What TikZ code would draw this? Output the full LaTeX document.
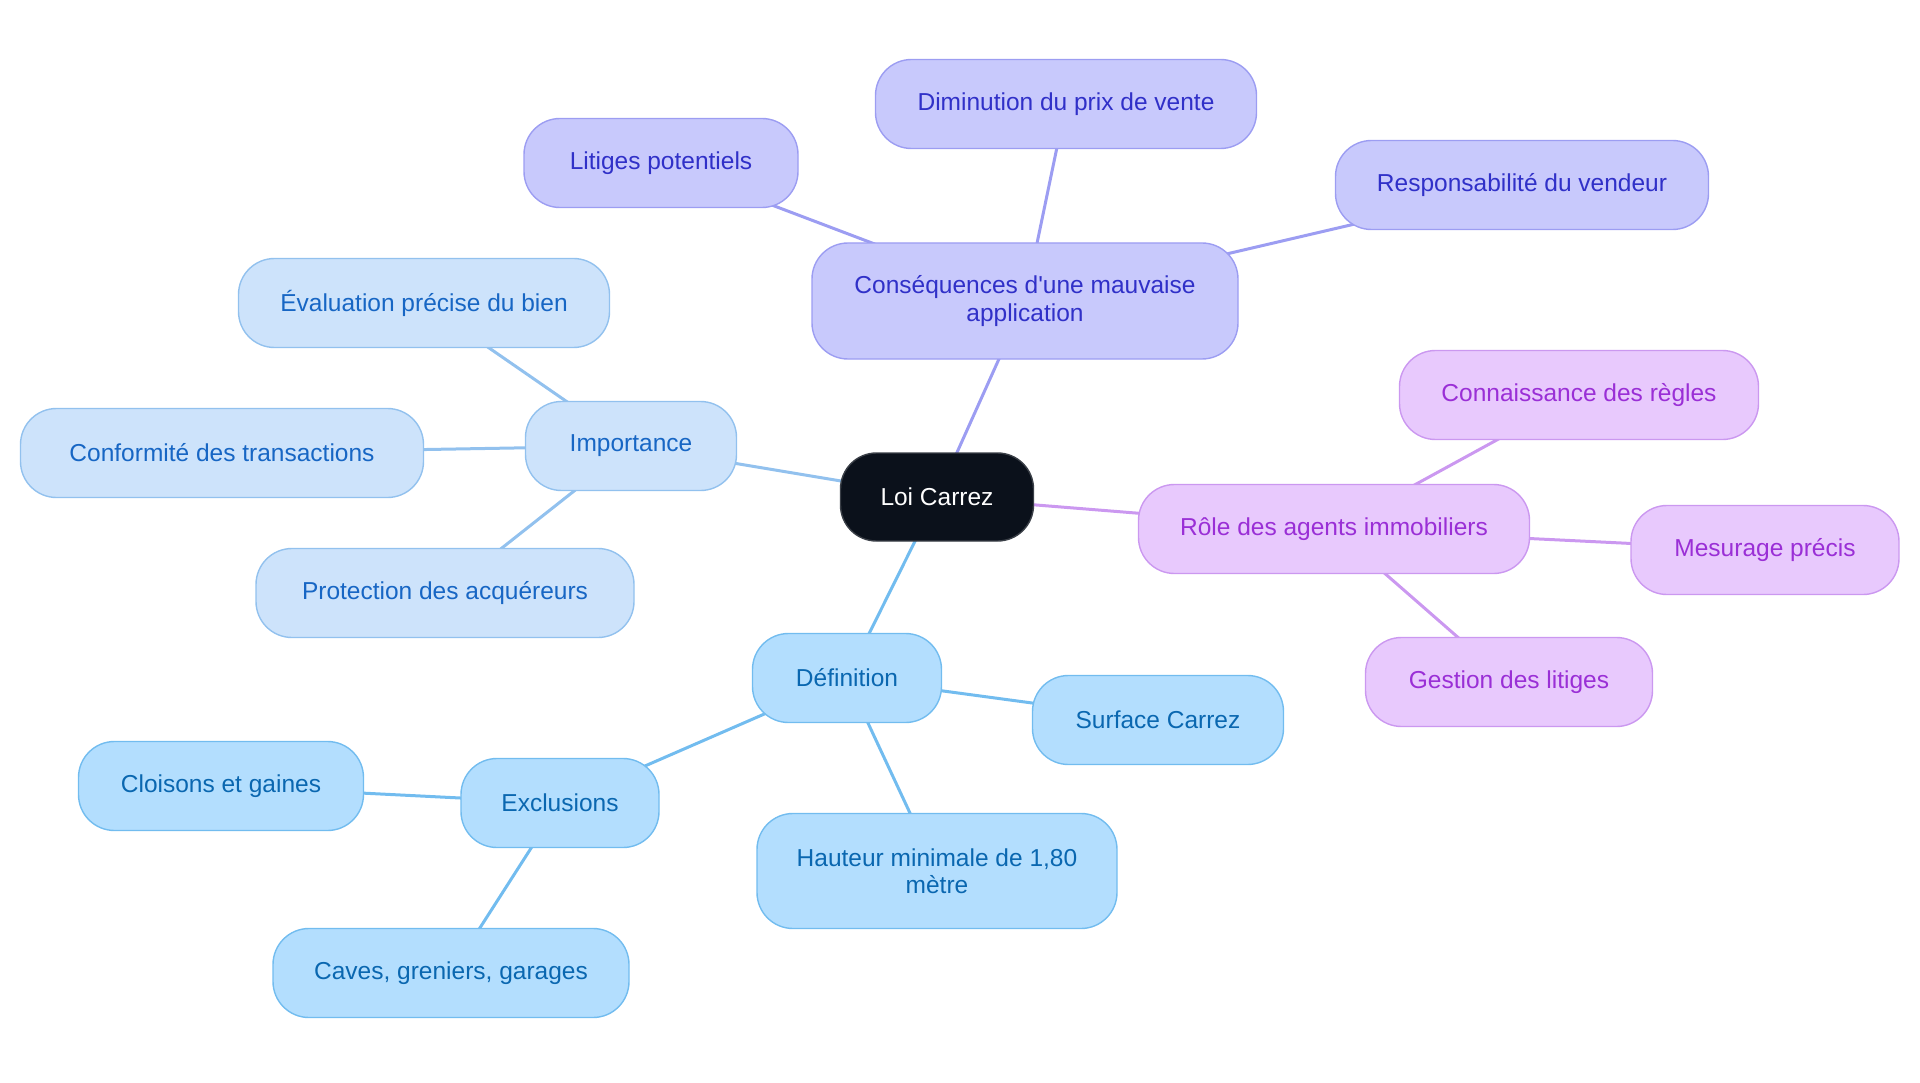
\documentclass[tikz,border=0pt]{standalone}
\usepackage{fontspec}
\setmainfont{Liberation Sans}[Ligatures=TeXOff]
\usetikzlibrary{backgrounds}
\definecolor{rootfill}{HTML}{0B111B}
\definecolor{rootdraw}{HTML}{3A3F47}
\definecolor{cfill}{HTML}{C8C9FC}
\definecolor{cdraw}{HTML}{9C9DF2}
\definecolor{ctext}{HTML}{3030C8}
\definecolor{ifill}{HTML}{CDE3FB}
\definecolor{idraw}{HTML}{92C1EE}
\definecolor{itext}{HTML}{1766C4}
\definecolor{dfill}{HTML}{B3DEFE}
\definecolor{ddraw}{HTML}{72BCEF}
\definecolor{dtext}{HTML}{0A67B0}
\definecolor{rfill}{HTML}{E8C9FD}
\definecolor{rdraw}{HTML}{CB98F0}
\definecolor{rtext}{HTML}{9A2FD6}
\tikzset{
  x=1pt, y=-1pt,
  box/.style={rectangle, rounded corners=36pt, line width=1.4pt, align=center,
    minimum height=89pt, inner sep=0pt,
    font=\fontsize{24.5}{27.5}\selectfont},
  rootbox/.style={box, fill=rootfill, draw=rootdraw, text=white},
  cbox/.style={box, fill=cfill, draw=cdraw, text=ctext},
  ibox/.style={box, fill=ifill, draw=idraw, text=itext},
  dbox/.style={box, fill=dfill, draw=ddraw, text=dtext},
  rbox/.style={box, fill=rfill, draw=rdraw, text=rtext},
  cline/.style={draw=cdraw, line width=3pt},
  iline/.style={draw=idraw, line width=3pt},
  dline/.style={draw=ddraw, line width=3pt},
  rline/.style={draw=rdraw, line width=3pt},
}
\begin{document}
\begin{tikzpicture}
\useasboundingbox (0,0) rectangle (1920,1083);
% root
\node[rootbox, minimum width=193pt, minimum height=88pt] (root) at (937,497) {Loi Carrez};
% consequences
\node[cbox, minimum width=426pt, minimum height=116pt] (cons) at (1025,301) {Conséquences d'une mauvaise\\application};
\node[cbox, minimum width=274pt] (lit) at (661,163) {Litiges potentiels};
\node[cbox, minimum width=381pt] (dim) at (1066,104) {Diminution du prix de vente};
\node[cbox, minimum width=373pt] (resp) at (1522,185) {Responsabilité du vendeur};
% importance
\node[ibox, minimum width=211pt] (imp) at (631,446) {Importance};
\node[ibox, minimum width=371pt] (eval) at (424,303) {Évaluation précise du bien};
\node[ibox, minimum width=403pt] (conf) at (222,453) {Conformité des transactions};
\node[ibox, minimum width=378pt] (prot) at (445,593) {Protection des acquéreurs};
% role
\node[rbox, minimum width=391pt] (role) at (1334,529) {Rôle des agents immobiliers};
\node[rbox, minimum width=359pt] (conn) at (1579,395) {Connaissance des règles};
\node[rbox, minimum width=268pt] (mes) at (1765,550) {Mesurage précis};
\node[rbox, minimum width=287pt] (gest) at (1509,682) {Gestion des litiges};
% definition
\node[dbox, minimum width=189pt] (def) at (847,678) {Définition};
\node[dbox, minimum width=251pt] (surf) at (1158,720) {Surface Carrez};
\node[dbox, minimum width=360pt, minimum height=115pt] (haut) at (937,871) {Hauteur minimale de 1,80\\mètre};
\node[dbox, minimum width=198pt] (excl) at (560,803) {Exclusions};
\node[dbox, minimum width=285pt] (cloi) at (221,786) {Cloisons et gaines};
\node[dbox, minimum width=356pt] (cave) at (451,973) {Caves, greniers, garages};
\begin{pgfonlayer}{background}
\draw[cline] (root.center) -- (cons.center);
\draw[cline] (cons.center) -- (lit.center);
\draw[cline] (cons.center) -- (dim.center);
\draw[cline] (cons.center) -- (resp.center);
\draw[iline] (root.center) -- (imp.center);
\draw[iline] (imp.center) -- (eval.center);
\draw[iline] (imp.center) -- (conf.center);
\draw[iline] (imp.center) -- (prot.center);
\draw[rline] (root.center) -- (role.center);
\draw[rline] (role.center) -- (conn.center);
\draw[rline] (role.center) -- (mes.center);
\draw[rline] (role.center) -- (gest.center);
\draw[dline] (root.center) -- (def.center);
\draw[dline] (def.center) -- (surf.center);
\draw[dline] (def.center) -- (haut.center);
\draw[dline] (def.center) -- (excl.center);
\draw[dline] (excl.center) -- (cloi.center);
\draw[dline] (excl.center) -- (cave.center);
\end{pgfonlayer}
\end{tikzpicture}
\end{document}
